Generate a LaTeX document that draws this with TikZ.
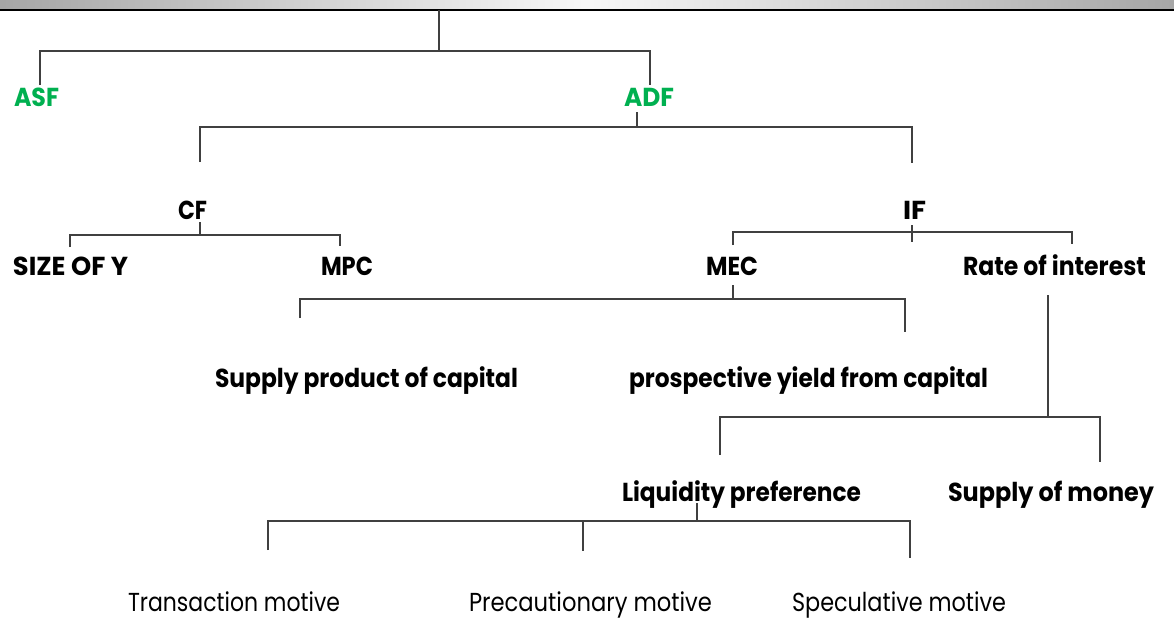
\documentclass[tikz,border=0pt]{standalone}
\usepackage{fontspec}
\usepackage{graphicx}
\newfontfamily\pop{Poppins}
\definecolor{lgreen}{HTML}{00B050}
\definecolor{lnk}{HTML}{404040}
\newlength\fw
\newcommand\fitto[2]{\settowidth\fw{#2}\pgfmathsetmacro\fr{#1/\fw}\scalebox{\fr}[1]{#2}}
\tikzset{
  lab/.style={font=\pop\bfseries\fontsize{26}{30}\selectfont, inner sep=0pt, anchor=base},
  glab/.style={lab, text=lgreen},
  rlab/.style={font=\pop\fontsize{26}{30}\selectfont, inner sep=0pt, anchor=base},
  conn/.style={draw=lnk, line width=1.1pt},
}
\begin{document}
\begin{tikzpicture}[x=1pt,y=-1pt]
\useasboundingbox[fill=white] (0,0) rectangle (1174,618);
% top bar
\shade[left color=black!35, right color=black!35, middle color=black!3] (0,0) rectangle (1174,9);
\coordinate (barL) at (0,10);
\coordinate (barR) at (1174,10);
\draw[line width=2.6pt, black] (barL) -- (barR);

% labels
\node[glab] (asf) at (36.5,106) {\fitto{45}{ASF}};
\node[glab] (adf) at (649,106) {\fitto{50}{ADF}};
\node[lab] (cf) at (192.5,219) {\fitto{29}{CF}};
\node[lab] (if) at (914.5,219) {\fitto{23}{IF}};
\node[lab] (size) at (70.5,275) {\fitto{115}{SIZE OF Y}};
\node[lab] (mpc) at (347,275) {\fitto{52}{MPC}};
\node[lab] (mec) at (732,275) {\fitto{52}{MEC}};
\node[lab] (rate) at (1054.5,275) {\fitto{183}{Rate of interest}};
\node[lab] (spc) at (366.5,387) {\fitto{303}{Supply product of capital}};
\node[lab] (pyc) at (808.5,387) {\fitto{359}{prospective yield from capital}};
\node[lab] (liq) at (741.5,501) {\fitto{239}{Liquidity preference}};
\node[lab] (som) at (1051,501) {\fitto{206}{Supply of money}};
\node[rlab] (tm) at (234,611) {\fitto{212}{Transaction motive}};
\node[rlab] (pm) at (590.5,611) {\fitto{243}{Precautionary motive}};
\node[rlab] (sm) at (899,611) {\fitto{214}{Speculative motive}};

% junction coordinates
\coordinate (r0) at (439,10);  \coordinate (r1) at (439,51);
\coordinate (h1L) at (40,51);  \coordinate (h1R) at (650,51);
\coordinate (d1L) at (40,85);  \coordinate (d1R) at (650,85);

\coordinate (a0) at (637,112); \coordinate (a1) at (637,127);
\coordinate (h2L) at (200,127); \coordinate (h2R) at (912,127);
\coordinate (d2L) at (200,162); \coordinate (d2R) at (912,163);

\coordinate (c0) at (200,222); \coordinate (c1) at (200,235);
\coordinate (h3L) at (70,235); \coordinate (h3R) at (340,235);
\coordinate (d3L) at (70,247); \coordinate (d3R) at (340,246);

\coordinate (i0) at (912,225); \coordinate (i1) at (912,242);
\coordinate (h4L) at (733,232); \coordinate (h4R) at (1072,232);
\coordinate (d4L) at (733,245); \coordinate (d4R) at (1072,244);

\coordinate (m0) at (733,285); \coordinate (m1) at (733,299);
\coordinate (h5L) at (300,299); \coordinate (h5R) at (905,299);
\coordinate (d5L) at (300,318); \coordinate (d5R) at (905,332);

\coordinate (q0) at (1048,295); \coordinate (q1) at (1048,417);
\coordinate (h6L) at (720,417); \coordinate (h6R) at (1100,417);
\coordinate (d6L) at (720,455); \coordinate (d6R) at (1100,462);

\coordinate (l0) at (697,503); \coordinate (l1) at (697,521);
\coordinate (h7L) at (268,521); \coordinate (h7M) at (583,521); \coordinate (h7R) at (910,521);
\coordinate (d7L) at (268,550); \coordinate (d7M) at (583,551); \coordinate (d7R) at (910,558);

% connectors
\draw[conn] (r0) -- (r1);
\draw[conn] (d1L) -- (h1L) -- (h1R) -- (d1R);
\draw[conn] (a0) -- (a1);
\draw[conn] (d2L) -- (h2L) -- (h2R) -- (d2R);
\draw[conn] (c0) -- (c1);
\draw[conn] (d3L) -- (h3L) -- (h3R) -- (d3R);
\draw[conn] (i0) -- (i1);
\draw[conn] (d4L) -- (h4L) -- (h4R) -- (d4R);
\draw[conn] (m0) -- (m1);
\draw[conn] (d5L) -- (h5L) -- (h5R) -- (d5R);
\draw[conn] (q0) -- (q1);
\draw[conn] (d6L) -- (h6L) -- (h6R) -- (d6R);
\draw[conn] (l0) -- (l1);
\draw[conn] (d7L) -- (h7L) -- (h7R) -- (d7R);
\draw[conn] (h7M) -- (d7M);
\end{tikzpicture}
\end{document}
